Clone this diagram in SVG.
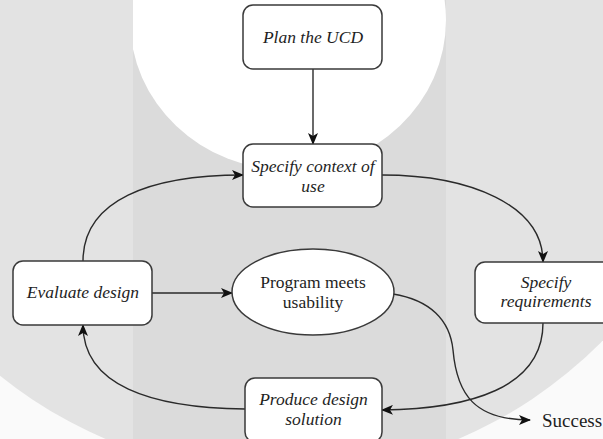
<svg xmlns="http://www.w3.org/2000/svg" width="603" height="439" viewBox="0 0 603 439">
<style>
.box{fill:#ffffff;stroke:#3a3a3a;stroke-width:1.5}
.lbl{font-family:'Liberation Serif','Tinos','Times New Roman','Nimbus Roman','DejaVu Serif',serif;font-size:17.5px;fill:#1e1e1e;text-anchor:middle}
.it{font-style:italic}
.con{fill:none;stroke:#2a2a2a;stroke-width:1.4}
</style>
<defs>
<marker id="ah" viewBox="0 0 12 10" refX="11" refY="5" markerWidth="12" markerHeight="10" markerUnits="userSpaceOnUse" orient="auto">
<path d="M0,0 L12,5 L0,10 L3,5 Z" fill="#111"/>
</marker>
<clipPath id="circ"><circle cx="282" cy="25" r="450"/></clipPath>
<clipPath id="band"><rect x="133" y="0" width="313" height="439"/></clipPath>
</defs>
<g id="background">
<rect x="0" y="0" width="603" height="439" fill="#fafafa"/>
<g clip-path="url(#circ)">
<rect x="0" y="0" width="603" height="439" fill="#e3e3e3"/>
<rect x="133" y="0" width="313" height="439" fill="#dbdbdb"/>
</g>
<ellipse cx="288" cy="20" rx="158" ry="150" fill="#ffffff" clip-path="url(#band)"/>
</g>
<g id="connectors">
<path class="con" d="M313,69 L313,144" marker-end="url(#ah)"/>
<path class="con" d="M382,175 C470,175 543,205 543,262" marker-end="url(#ah)"/>
<path class="con" d="M543,323 C543,388 470,409 382,410" marker-end="url(#ah)"/>
<path class="con" d="M245,409 C150,408 83,385 83,325" marker-end="url(#ah)"/>
<path class="con" d="M83,261 C83,200 150,175 243,175" marker-end="url(#ah)"/>
<path class="con" d="M152,293 L232,293" marker-end="url(#ah)"/>
<path class="con" d="M393,294 C430,300 450,320 453,350 C457,395 475,420 530,420" marker-end="url(#ah)"/>
</g>
<g id="plan">
<rect class="box" x="243" y="5" width="139" height="64" rx="10"/>
<text class="lbl it" font-family="Liberation Serif" x="313" y="43">Plan the UCD</text>
</g>
<g id="context">
<rect class="box" x="243" y="144" width="139" height="63" rx="10"/>
<text class="lbl it" x="313" y="172">Specify context of</text>
<text class="lbl it" x="313" y="192">use</text>
</g>
<g id="evaluate">
<rect class="box" x="13" y="261" width="139" height="64" rx="10"/>
<text class="lbl it" x="83" y="298">Evaluate design</text>
</g>
<g id="meets">
<ellipse class="box" cx="313" cy="292" rx="81" ry="43"/>
<text class="lbl" x="313" y="288">Program meets</text>
<text class="lbl" x="313" y="308">usability</text>
</g>
<g id="requirements">
<rect class="box" x="475" y="262" width="139" height="61" rx="10"/>
<text class="lbl it" x="546" y="288">Specify</text>
<text class="lbl it" x="546" y="307">requirements</text>
</g>
<g id="produce">
<rect class="box" x="245" y="378" width="137" height="64" rx="10"/>
<text class="lbl it" x="313.5" y="405">Produce design</text>
<text class="lbl it" x="313.5" y="425">solution</text>
</g>
<g id="success">
<text class="lbl" style="font-size:19px;text-anchor:start" x="542" y="427">Success</text>
</g>
</svg>
